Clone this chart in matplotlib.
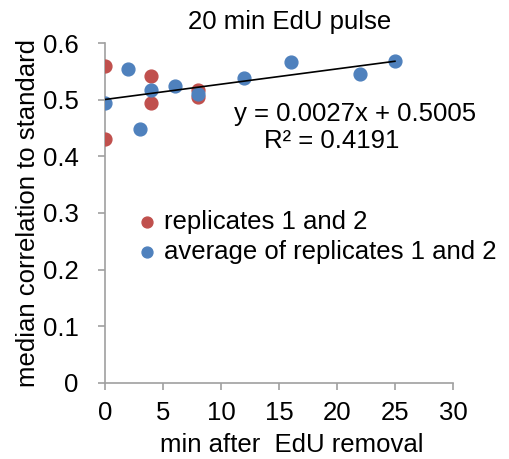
"""Scatter of median correlation vs time after EdU removal, Excel style."""

import matplotlib
matplotlib.use("Agg")
import matplotlib.pyplot as plt

plt.rcParams["font.family"] = ["Liberation Sans", "DejaVu Sans"]

# replicate values (two per time point where visible)
rep_minutes = [0, 0, 4, 4, 8, 8]
rep_corr = [0.560, 0.431, 0.542, 0.495, 0.518, 0.505]

# averages of the replicates
avg_minutes = [0, 2, 3, 4, 6, 8, 12, 16, 22, 25]
avg_corr = [0.495, 0.554, 0.448, 0.518, 0.524, 0.511, 0.539, 0.566, 0.546, 0.568]

# linear trendline shown on the chart
slope = 0.0027
intercept = 0.5005
r_squared = 0.4191

x_ticks = [0, 5, 10, 15, 20, 25, 30]
y_ticks = [0, 0.1, 0.2, 0.3, 0.4, 0.5, 0.6]

red = "#C0504D"
blue = "#4F81BD"
grey = "#A0A0A0"
fs = 18.5

fig = plt.figure(figsize=(5.1, 4.59), dpi=100)
ax = fig.add_axes([0.206, 0.166, 0.682, 0.740])

ax.scatter(rep_minutes, rep_corr, s=85, color=red, zorder=3,
           label="replicates 1 and 2")
ax.scatter(avg_minutes, avg_corr, s=85, color=blue, zorder=3,
           label="average of replicates 1 and 2")

line_x = [min(avg_minutes), max(avg_minutes)]
line_y = [slope * x + intercept for x in line_x]
ax.plot(line_x, line_y, color="black", linewidth=1.2, zorder=4)

ax.set_xlim(0, 30)
ax.set_ylim(0, 0.6)
ax.set_xticks(x_ticks)
ax.set_yticks(y_ticks)
ax.set_yticklabels(["0" if v == 0 else f"{v:.1f}" for v in y_ticks])

for side in ("top", "right"):
    ax.spines[side].set_visible(False)
for side in ("left", "bottom"):
    ax.spines[side].set_color(grey)
    ax.spines[side].set_linewidth(1.2)
ax.tick_params(axis="both", colors=grey, direction="out", length=5,
               width=1.2, labelsize=fs, labelcolor="black")
ax.tick_params(axis="y", pad=14)
ax.tick_params(axis="x", pad=8)

ax.set_xlabel("min after  EdU removal", fontsize=fs, labelpad=6, x=0.537)
ax.set_ylabel("median correlation to standard", fontsize=fs, labelpad=2)
ax.set_title("20 min EdU pulse", fontsize=fs, pad=10, x=0.532)

ax.text(0.718, 0.792, f"y = {slope}x + {intercept}", transform=ax.transAxes,
        fontsize=fs, ha="center", va="center")
ax.text(0.652, 0.713, f"R\u00b2 = {r_squared}", transform=ax.transAxes,
        fontsize=fs, ha="center", va="center")

ax.legend(loc="upper left", bbox_to_anchor=(0.054, 0.54), frameon=False,
          fontsize=fs, handletextpad=0.15, borderaxespad=0, labelspacing=0.25,
          markerscale=0.85, handlelength=1.0)

fig.savefig("out.png", dpi=100)
